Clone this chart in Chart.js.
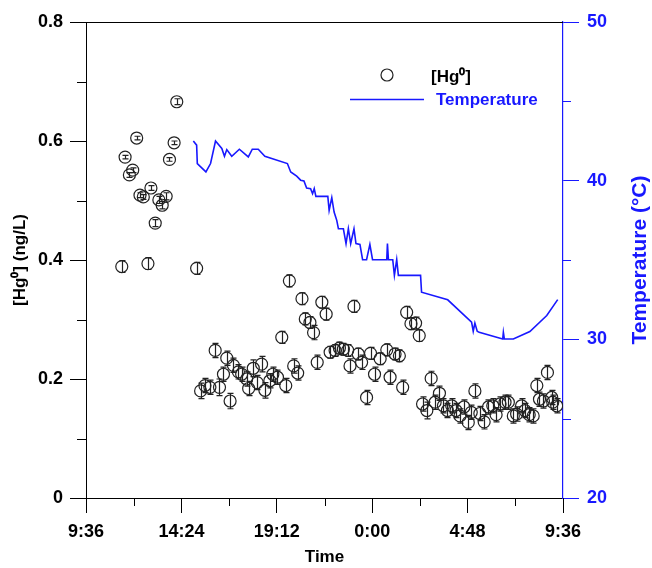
<!DOCTYPE html>
<html><head><meta charset="utf-8">
<script src="https://cdn.jsdelivr.net/npm/chart.js@4.4.1/dist/chart.umd.min.js"></script>
<style>html,body{margin:0;padding:0;background:#fff;}canvas{display:block;}</style>
</head><body>
<canvas id="c" width="652" height="568"></canvas>
<script>
// ---------- data ----------
const hgTimes = ["11:24","11:34","11:47","11:57","12:09","12:19","12:29","12:43","12:52","13:05","13:16","13:26","13:38","13:48","14:02","14:10","15:10",
"15:22","15:35","15:50","16:06","16:19","16:31","16:41","16:51","17:01","17:16","17:26","17:41","17:47","18:01","18:13","18:26","18:36","18:51","19:00",
"19:14","19:27","19:39","19:50","20:03","20:15","20:28","20:38","20:52","21:03","21:14","21:28","21:41","21:53","22:08","22:21","22:33","22:46","22:53",
"23:05","23:18","23:28","23:43","23:55","0:07","0:24","0:44","0:54","1:09","1:22","1:32","1:44","1:57","2:11","2:22","2:32","2:45","2:58","3:10","3:23",
"3:35","3:47","4:00","4:13","4:25","4:37","4:50","4:59","5:10","5:25","5:38","5:51","6:04","6:14","6:26","6:41","6:51","7:06","7:16","7:31","7:41","7:54",
"8:06","8:17","8:25","8:37","8:49","9:02","9:05","9:17"];
const hgValues = [0.389,0.573,0.543,0.551,0.605,0.509,0.506,0.394,0.521,0.462,0.501,0.492,0.507,0.569,0.597,0.666,0.386,
0.180,0.189,0.186,0.248,0.186,0.208,0.235,0.163,0.223,0.212,0.208,0.200,0.184,0.218,0.194,0.225,0.181,0.197,0.208,
0.203,0.270,0.189,0.365,0.222,0.210,0.335,0.301,0.295,0.278,0.228,0.329,0.309,0.245,0.248,0.252,0.250,0.248,0.222,
0.322,0.242,0.228,0.169,0.243,0.208,0.234,0.249,0.203,0.242,0.239,0.186,0.312,0.293,0.294,0.273,0.158,0.147,0.201,0.161,0.176,
0.155,0.147,0.155,0.147,0.138,0.153,0.127,0.144,0.180,0.142,0.128,0.153,0.155,0.140,0.158,0.161,0.161,0.138,0.141,0.155,0.147,0.140,
0.138,0.189,0.166,0.163,0.211,0.169,0.161,0.155];
const hgErrors = [0.010,0.003,0.004,0.004,0.003,0.004,0.004,0.010,0.004,0.006,0.006,0.006,0.006,0.003,0.003,0.005,0.010,
0.013,0.012,0.012,0.012,0.014,0.012,0.012,0.013,0.012,0.012,0.012,0.012,0.012,0.014,0.012,0.013,0.013,0.012,0.012,
0.012,0.010,0.012,0.010,0.012,0.012,0.010,0.010,0.010,0.012,0.012,0.010,0.010,0.010,0.010,0.010,0.010,0.010,0.012,
0.010,0.010,0.012,0.012,0.010,0.012,0.010,0.010,0.012,0.010,0.010,0.012,0.010,0.010,0.010,0.010,0.012,0.014,0.012,0.012,0.012,
0.012,0.012,0.012,0.012,0.012,0.012,0.012,0.012,0.012,0.012,0.012,0.012,0.012,0.012,0.012,0.012,0.012,0.012,0.012,0.012,0.012,0.012,
0.012,0.012,0.012,0.012,0.012,0.012,0.012,0.012];
const tempTimes = ["15:00","15:10","15:12","15:38","15:52","16:07","16:26","16:34","16:41","16:56","17:19","17:46","17:58","18:16","18:36",
"19:44","19:54","20:12","20:24","20:34","20:42","20:54","21:00","21:05","21:10","21:46","21:50","21:58","22:05","22:10","22:13","22:18",
"22:33","22:41","22:48","22:55","23:05","23:11","23:23","23:31","23:43","23:53","0:01","0:44","0:46","0:49","1:02","1:07","1:14","1:19",
"2:26","2:29","3:48","5:00","5:05","5:10","5:17","5:23","6:34","6:36","6:39","7:06","7:56","8:47","9:20"];
const tempValues = [42.5,42.24,41.08,40.55,41.08,42.5,42.03,41.54,41.96,41.54,41.98,41.5,41.98,41.98,41.54,
41.08,40.55,40.28,40.03,39.98,39.54,39.5,39.18,39.5,39.01,39.01,38.13,38.93,38.02,37.7,37.5,36.97,
36.97,36.03,36.97,36.03,36.97,36.03,35.98,35.02,35.02,35.98,35.02,35.02,36.03,35.02,35.02,34.03,35.02,34.03,
34.03,32.97,32.49,31.08,30.51,31.02,30.51,30.44,30.02,30.44,30.02,30.02,30.49,31.5,32.5];
const xTickLabels = ["9:36","14:24","19:12","0:00","4:48","9:36"];
const hgTickValues = [0, 0.2, 0.4, 0.6, 0.8];
const tempTickValues = [20, 30, 40, 50];

// ---------- helpers ----------
function toHoursSeq(arr){
  const out = []; let offset = 0; let prev = -Infinity;
  arr.forEach(s => {
    const [h,m] = s.split(':').map(Number);
    let v = h + m/60 + offset;
    if (v <= prev) { offset += 24; v += 24; }
    out.push(v); prev = v;
  });
  return out;
}
function seqFromStart(arr){ return toHoursSeq([xTickLabels[0]].concat(arr)).slice(1); }
const xTickVals = toHoursSeq(xTickLabels);
const hgX = seqFromStart(hgTimes);
const tempX = seqFromStart(tempTimes);

const BLUE = 'rgb(24,24,255)';
const FONT = "'Liberation Sans', Arial, sans-serif";

const decor = {
  id: 'decor',
  beforeDatasetsDraw(chart){
    const {ctx, scales:{x, y}} = chart;
    ctx.save();
    ctx.strokeStyle = '#222'; ctx.lineWidth = 1.2;
    hgValues.forEach((v,i) => {
      const px = Math.round(x.getPixelForValue(hgX[i])) + 0.5;
      const y1 = y.getPixelForValue(v + hgErrors[i]);
      const y2 = y.getPixelForValue(v - hgErrors[i]);
      ctx.beginPath();
      ctx.moveTo(px, y1); ctx.lineTo(px, y2);
      ctx.moveTo(px-3, y1); ctx.lineTo(px+3, y1);
      ctx.moveTo(px-3, y2); ctx.lineTo(px+3, y2);
      ctx.stroke();
    });
    ctx.restore();
  },
  afterDraw(chart){
    const {ctx, chartArea:{left,right,top,bottom}, scales:{x, y, y2}} = chart;
    ctx.save();
    ctx.lineWidth = 1;
    // top frame line
    ctx.strokeStyle = '#000';
    ctx.beginPath(); ctx.moveTo(left, top + 0.5); ctx.lineTo(right, top + 0.5); ctx.stroke();
    // minor x ticks
    ctx.beginPath();
    for (let i = 0; i < xTickVals.length - 1; i++) {
      const px = Math.round(x.getPixelForValue((xTickVals[i] + xTickVals[i+1]) / 2)) + 0.5;
      ctx.moveTo(px, bottom); ctx.lineTo(px, bottom + 8);
    }
    // minor left y ticks
    for (let i = 0; i < hgTickValues.length - 1; i++) {
      const py = Math.round(y.getPixelForValue((hgTickValues[i] + hgTickValues[i+1]) / 2)) + 0.5;
      ctx.moveTo(left, py); ctx.lineTo(left - 9, py);
    }
    ctx.stroke();
    // minor right y ticks
    ctx.strokeStyle = BLUE;
    ctx.beginPath();
    for (let i = 0; i < tempTickValues.length - 1; i++) {
      const py = Math.round(y2.getPixelForValue((tempTickValues[i] + tempTickValues[i+1]) / 2)) + 0.5;
      ctx.moveTo(right, py); ctx.lineTo(right + 8, py);
    }
    ctx.stroke();
    // right axis title (reads bottom to top)
    ctx.fillStyle = BLUE;
    ctx.font = "bold 21px " + FONT;
    ctx.textAlign = 'center'; ctx.textBaseline = 'middle';
    ctx.translate(640, (top + bottom) / 2);
    ctx.rotate(-Math.PI / 2);
    ctx.fillText('Temperature (\u00B0C)', 0, 0);
    ctx.setTransform(1,0,0,1,0,0);
    // legend
    ctx.strokeStyle = '#222'; ctx.lineWidth = 1.2;
    ctx.beginPath(); ctx.arc(387, 75, 6, 0, Math.PI * 2); ctx.stroke();
    ctx.fillStyle = '#000'; ctx.textAlign = 'left';
    ctx.font = "bold 17px " + FONT;
    ctx.fillText('[Hg\u2070]', 431, 77);
    ctx.strokeStyle = BLUE; ctx.lineWidth = 1.5;
    ctx.beginPath(); ctx.moveTo(350, 99.5); ctx.lineTo(424, 99.5); ctx.stroke();
    ctx.fillStyle = BLUE;
    ctx.fillText('Temperature', 436, 100);
    ctx.restore();
  }
};

new Chart(document.getElementById('c'), {
  type: 'scatter',
  data: {
    datasets: [
      {
        label: '[Hg\u2070]',
        data: hgValues.map((v,i) => ({x: hgX[i], y: v})),
        yAxisID: 'y',
        pointStyle: 'circle', pointRadius: 6, pointHoverRadius: 6,
        borderColor: '#222', backgroundColor: 'rgba(0,0,0,0)', borderWidth: 1.2
      },
      {
        type: 'line',
        label: 'Temperature',
        data: tempValues.map((v,i) => ({x: tempX[i], y: v})),
        yAxisID: 'y2',
        borderColor: BLUE, borderWidth: 1.6, pointRadius: 0, tension: 0, fill: false
      }
    ]
  },
  options: {
    responsive: false, animation: false, devicePixelRatio: 1,
    layout: { padding: { top: 22, left: 0, right: 0, bottom: 0 } },
    plugins: { legend: { display: false }, tooltip: { enabled: false } },
    scales: {
      x: {
        type: 'linear', position: 'bottom',
        min: xTickVals[0], max: xTickVals[xTickVals.length - 1],
        afterBuildTicks: s => { s.ticks = xTickVals.map(v => ({value: v})); },
        afterFit: s => { s.height = 70; },
        ticks: { autoSkip: false, maxRotation: 0, padding: 8, color: '#000',
                 font: { family: FONT, size: 18, weight: 'bold' },
                 callback: (v, i) => xTickLabels[i] },
        grid: { drawOnChartArea: false, tickLength: 15, color: '#000', tickColor: '#000' },
        border: { color: '#000', width: 1 },
        title: { display: true, text: 'Time', color: '#000', padding: { top: 0, bottom: 0 },
                 font: { family: FONT, size: 17, weight: 'bold' } }
      },
      y: {
        type: 'linear', position: 'left', min: 0, max: 0.8,
        afterBuildTicks: s => { s.ticks = hgTickValues.map(v => ({value: v})); },
        afterFit: s => { s.width = 86; },
        ticks: { color: '#000', padding: 7, font: { family: FONT, size: 18, weight: 'bold' },
                 callback: v => v === 0 ? '0' : v.toFixed(1) },
        grid: { drawOnChartArea: false, tickLength: 16, color: '#000', tickColor: '#000' },
        border: { color: '#000', width: 1 },
        title: { display: true, text: '[Hg\u2070] (ng/L)', color: '#000', padding: { top: 10, bottom: 0 },
                 font: { family: FONT, size: 17, weight: 'bold' } }
      },
      y2: {
        type: 'linear', position: 'right', min: 20, max: 50,
        afterBuildTicks: s => { s.ticks = tempTickValues.map(v => ({value: v})); },
        afterFit: s => { s.width = 89; },
        ticks: { color: BLUE, padding: 8, font: { family: FONT, size: 18, weight: 'bold' } },
        grid: { drawOnChartArea: false, tickLength: 16, color: BLUE, tickColor: BLUE },
        border: { color: BLUE, width: 1.2 },
        title: { display: false }
      }
    }
  },
  plugins: [decor]
});
</script>
</body></html>
